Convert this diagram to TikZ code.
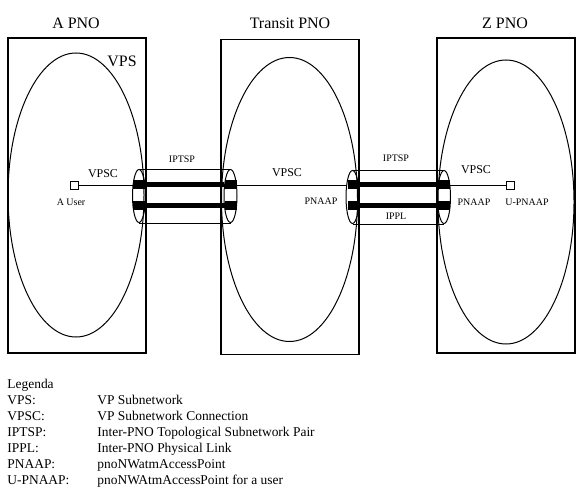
\documentclass[tikz,border=0pt]{standalone}
\usepackage{fontspec}
\setmainfont{Liberation Serif}
\usetikzlibrary{shapes.geometric}

\tikzset{
  pno/.style={draw, line width=1.1pt, minimum width=138bp, minimum height=315bp, inner sep=0pt},
  vps/.style={draw, ellipse, line width=1pt, minimum width=136bp, minimum height=284bp, inner sep=0pt},
  tubeend/.style={draw, ellipse, line width=1pt, minimum width=13bp, minimum height=53bp, inner sep=0pt},
  port/.style={fill=black, minimum width=12bp, minimum height=9bp, inner sep=0pt},
  usr/.style={draw, fill=white, minimum size=8bp, inner sep=0pt, line width=0.8pt},
  bar/.style={line width=5bp},
  big/.style={font=\fontsize{16}{18}\selectfont, inner sep=0pt},
  mid/.style={font=\fontsize{12}{14}\selectfont, inner sep=0pt},
  small/.style={font=\fontsize{10}{12}\selectfont, inner sep=0pt}
}

\begin{document}
\begin{tikzpicture}[x=1bp, y=-1bp, line width=0.8pt]
  \useasboundingbox (0,0) rectangle (576,493);

  \node[pno] (boxA) at (77,195.5) {};
  \node[pno] (boxT) at (290,197) {};
  \node[pno] (boxZ) at (506,195.5) {};

  \node[vps] (vpsA) at (76,195) {};
  \node[vps] (vpsT) at (289.5,199.5) {};
  \node[vps] (vpsZ) at (506,202) {};

  \node[big] (titleA) at (76,23) {A PNO};
  \node[big] (titleT) at (290,23) {Transit PNO};
  \node[big] (titleZ) at (505,23) {Z PNO};
  \node[big] (lblVPS) at (122,61) {VPS};

  \node[tubeend] (endAl) at (139,196) {};
  \node[tubeend] (endAr) at (230.5,196) {};
  \node[tubeend] (endZl) at (352.5,197) {};
  \node[tubeend] (endZr) at (444,197) {};

  \draw (endAl.north) -- (endAr.north);
  \draw (endAl.south) -- (endAr.south);
  \draw (endZl.north) -- (endZr.north);
  \draw (endZl.south) -- (endZr.south);

  \node[port] (pAl1) at (139,185) {};
  \node[port] (pAl2) at (139,205.5) {};
  \node[port] (pAr1) at (230.5,185) {};
  \node[port] (pAr2) at (230.5,205.5) {};
  \node[port] (pZl1) at (353.5,185) {};
  \node[port] (pZl2) at (353.5,205.5) {};
  \node[port] (pZr1) at (444,185) {};
  \node[port] (pZr2) at (444,205.5) {};

  \draw[bar] (pAl1) -- (pAr1);
  \draw[bar] (pAl2) -- (pAr2);
  \draw[bar] (pZl1) -- (pZr1);
  \draw[bar] (pZl2) -- (pZr2);

  \node[usr] (userA) at (74,185) {};
  \node[usr] (userZ) at (510,185) {};

  \draw (userA) -- (pAl1);
  \draw (pAr1) -- (pZl1);
  \draw (pZr1) -- (userZ);

  \node[mid] (vpscA) at (103,174) {VPSC};
  \node[mid] (vpscT) at (287,173) {VPSC};
  \node[mid] (vpscZ) at (476,170) {VPSC};

  \node[small] (iptspA) at (182,159) {IPTSP};
  \node[small] (iptspZ) at (396,158) {IPTSP};
  \node[small] (ippl) at (396,216) {IPPL};
  \node[small] (nameA) at (71,202) {A User};
  \node[small] (pnaapT) at (321,201) {PNAAP};
  \node[small] (pnaapZ) at (474,202) {PNAAP};
  \node[small] (upnaap) at (527,202) {U-PNAAP};

  \node[anchor=north west, inner sep=0pt, font=\fontsize{13.5}{16}\selectfont] (legend) at (7,377) {%
    \begin{tabular}{@{}p{90bp}@{}l@{}}
      Legenda & \\
      VPS: & VP Subnetwork \\
      VPSC: & VP Subnetwork Connection \\
      IPTSP: & Inter-PNO Topological Subnetwork Pair \\
      IPPL: & Inter-PNO Physical Link \\
      PNAAP: & pnoNWatmAccessPoint \\
      U-PNAAP: & pnoNWAtmAccessPoint for a user
    \end{tabular}};
\end{tikzpicture}
\end{document}
